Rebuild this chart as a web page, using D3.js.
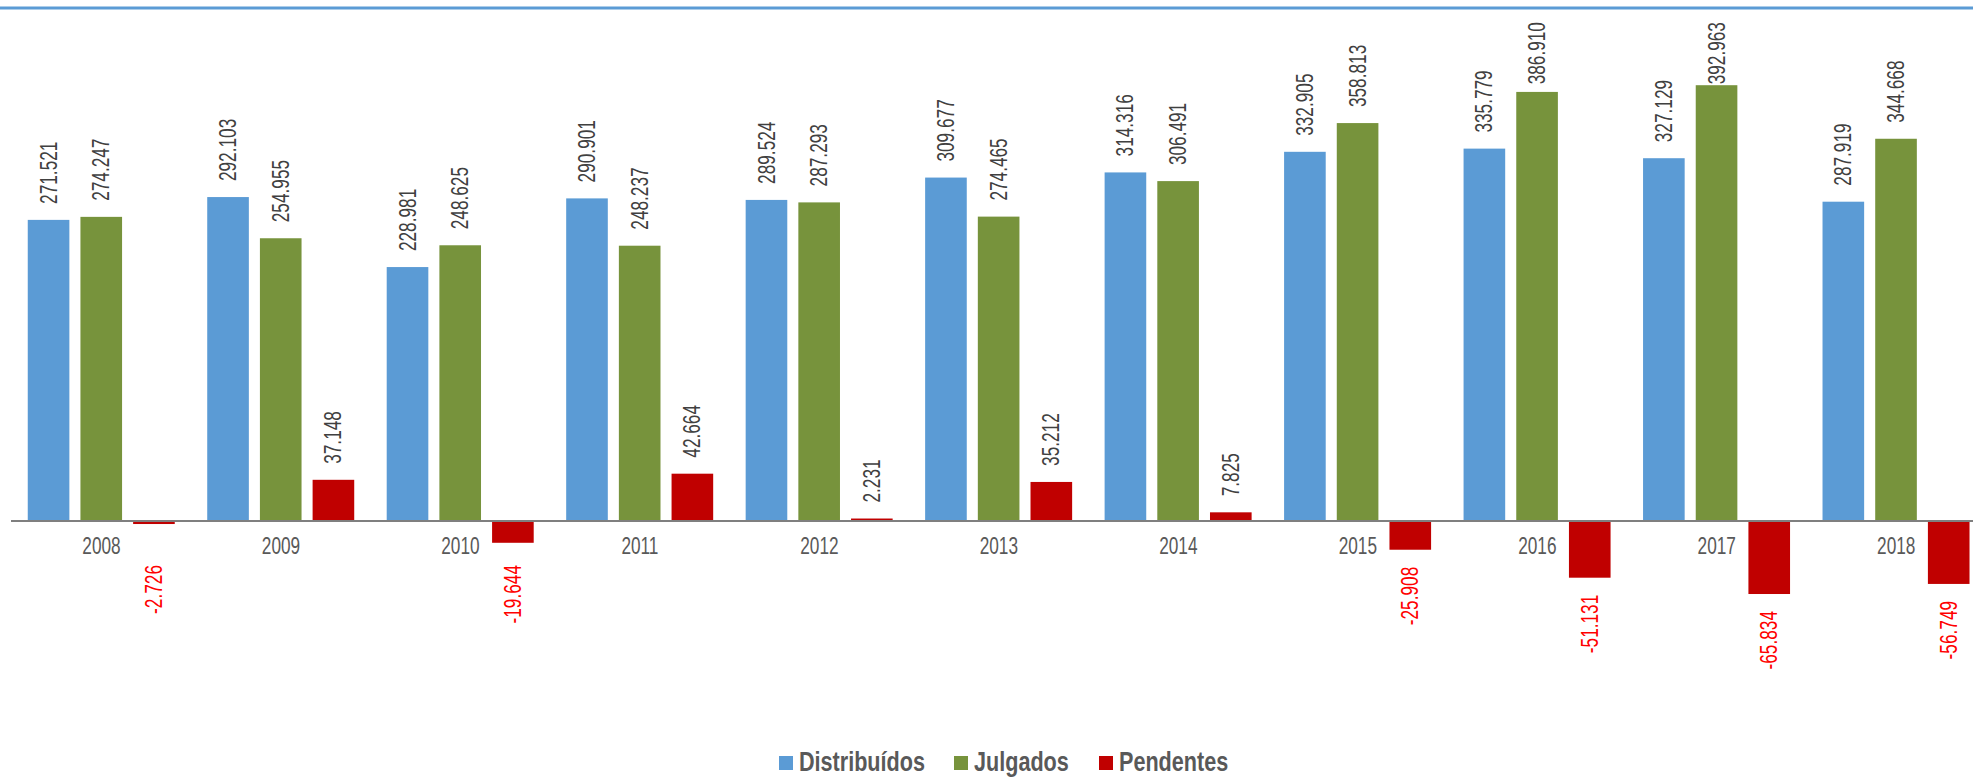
<!DOCTYPE html>
<html>
<head>
<meta charset="utf-8">
<script src="https://cdn.jsdelivr.net/npm/d3@7"></script>
<style>
  body { margin: 0; background: #fff; }
  text { font-family: "Liberation Sans", Arial, sans-serif; }
</style>
</head>
<body>
<svg id="chart"></svg>
<script>
const width = 1973;
const height = 777;
const narrow = 0.75; // imite l'Arial Narrow

// Données
const years = ["2008", "2009", "2010", "2011", "2012", "2013", "2014", "2015", "2016", "2017", "2018"];
const distribuidos = [271521, 292103, 228981, 290901, 289524, 309677, 314316, 332905, 335779, 327129, 287919];
const julgados = [274247, 254955, 248625, 248237, 287293, 274465, 306491, 358813, 386910, 392963, 344668];
const pendentes = [-2726, 37148, -19644, 42664, 2231, 35212, 7825, -25908, -51131, -65834, -56749];
const seriesNames = ["Distribuídos", "Julgados", "Pendentes"];
const seriesColors = ["#5B9BD5", "#77933C", "#C00000"];

const seriesValues = [distribuidos, julgados, pendentes];

const svg = d3.select("#chart")
  .attr("width", width)
  .attr("height", height);

// ligne bleue en haut
svg.append("line")
  .attr("x1", 0).attr("x2", width)
  .attr("y1", 8).attr("y2", 8)
  .attr("stroke", "#5B9BD5")
  .attr("stroke-width", 3);

// format pt-BR (séparateur de milliers = ".")
const ptBR = d3.formatLocale({ decimal: ",", thousands: ".", grouping: [3], currency: ["R$", ""], minus: "-" });
const fmt = ptBR.format(",d");

// échelles
const x0 = d3.scaleBand()
  .domain(years)
  .range([11.75, 1986]);

const x1 = d3.scaleBand()
  .domain(seriesNames)
  .range([16, 163])
  .paddingInner(0.21);

const y = d3.scaleLinear()
  .domain([-100000, 400000])
  .range([631.9, 77.4]);

const rows = years.map((yr, i) => ({
  year: yr,
  values: seriesNames.map((s, k) => ({ key: s, value: seriesValues[k][i], color: seriesColors[k] }))
}));

const groups = svg.selectAll("g.year")
  .data(rows)
  .join("g")
  .attr("class", "year")
  .attr("transform", d => `translate(${x0(d.year)},0)`);

groups.selectAll("rect")
  .data(d => d.values)
  .join("rect")
  .attr("x", d => x1(d.key))
  .attr("width", x1.bandwidth())
  .attr("y", d => y(Math.max(0, d.value)))
  .attr("height", d => Math.abs(y(d.value) - y(0)))
  .attr("fill", d => d.color);

// axe X
const axisY = y(0);
const xAxis = svg.append("g")
  .attr("transform", `translate(0,${axisY})`)
  .call(d3.axisBottom(x0).tickSize(0).tickPadding(17));

xAxis.select(".domain").remove();
xAxis.selectAll("text")
  .attr("fill", "#595959")
  .attr("transform", `scale(${narrow},1)`)
  .style("font-size", "23px");

svg.append("line")
  .attr("x1", 11).attr("x2", width)
  .attr("y1", axisY).attr("y2", axisY)
  .attr("stroke", "#7F7F7F")
  .attr("stroke-width", 2);

// étiquettes de valeurs (verticales)
function labelPos(d, len) {
  const cx = x1(d.key) + x1.bandwidth() / 2;
  let ty;
  if (d.value >= 0) {
    ty = y(d.value) - 16;
    if (ty - len < 22) ty = 22 + len; // reste dans la zone de tracé
  } else {
    ty = Math.max(y(d.value) + 17, axisY + 44);
  }
  return `translate(${cx},${ty}) rotate(-90) scale(${narrow},1)`;
}

groups.selectAll("text.val")
  .data(d => d.values)
  .join("text")
  .attr("class", "val")
  .attr("text-anchor", d => d.value >= 0 ? "start" : "end")
  .attr("dy", "0.35em")
  .attr("fill", d => d.value >= 0 ? "#404040" : "#FF0000")
  .style("font-size", "23px")
  .text(d => fmt(d.value))
  .each(function(d) {
    const len = this.getComputedTextLength() * narrow;
    d3.select(this).attr("transform", labelPos(d, len));
  });

// légende
const legendX = [779, 954, 1099];
const legend = svg.append("g");
seriesNames.forEach((s, k) => {
  legend.append("rect")
    .attr("x", legendX[k]).attr("y", 756)
    .attr("width", 14).attr("height", 14)
    .attr("fill", seriesColors[k]);
  legend.append("text")
    .attr("transform", `translate(${legendX[k] + 20},771) scale(0.8,1)`)
    .attr("fill", "#595959")
    .style("font-size", "27px")
    .style("font-weight", "bold")
    .text(s);
});
</script>
</body>
</html>
